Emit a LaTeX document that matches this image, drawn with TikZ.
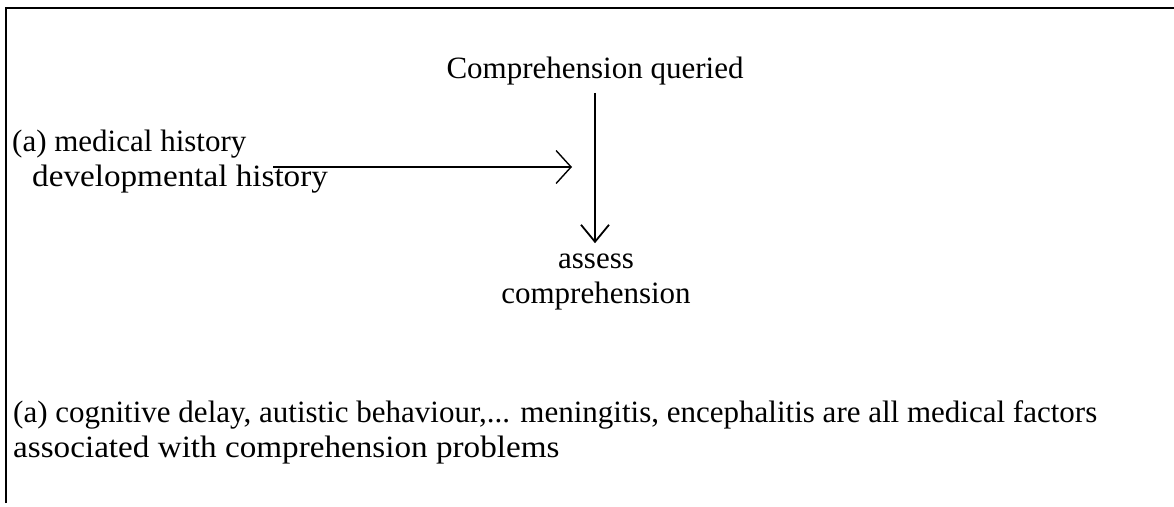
\documentclass[tikz,border=0pt]{standalone}
\usepackage{fontspec}
\setmainfont{Liberation Serif}
\usetikzlibrary{arrows.meta}
\begin{document}
\begin{tikzpicture}[x=1pt,y=-1pt,
  txt/.style={inner sep=0pt, font=\fontsize{31}{35}\selectfont},
  frame/.style={line width=2pt},
  vertarrow/.style={line width=1.8pt, -{Straight Barb[length=17pt,width=28pt]}},
  horzarrow/.style={line width=1.4pt, -{Straight Barb[length=15pt,width=33pt]}}]
\useasboundingbox (0,0) rectangle (1174,506);
% open frame: left and top edges only
\draw[frame] (6,503) -- (6,8) -- (1174,8);
% texts
\node[txt,anchor=base] (cq) at (595,78) {Comprehension queried};
\node[txt,anchor=base west] (med) at (12,151) {(a) medical history};
\node[txt,anchor=base west] (dev) at (32,186) {\scalebox{1.07}[1]{developmental history}};
\node[txt,anchor=base] (as) at (596,268) {assess};
\node[txt,anchor=base] (comp) at (596,303) {comprehension};
\node[txt,anchor=base west] (note1) at (13,422) {(a) cognitive delay, autistic behaviour,... meningitis, encephalitis are all medical factors};
\node[txt,anchor=base west] (note2) at (13,457) {\scalebox{1.07}[1]{associated with comprehension problems}};
% connectors
\coordinate (hstart) at (273,167);
\coordinate (hend) at (572,167);
\draw[horzarrow] (hstart) -- (hend);
\draw[vertarrow, shorten <=8pt, shorten >=10pt] (cq.south) -- (cq.south |- as.north);
\end{tikzpicture}
\end{document}
